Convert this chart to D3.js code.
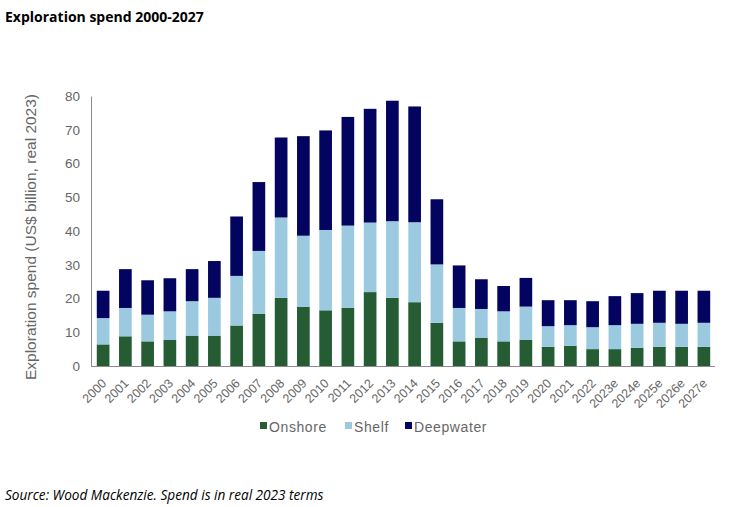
<!DOCTYPE html>
<html><head><meta charset="utf-8">
<script src="https://cdn.jsdelivr.net/npm/d3@7"></script>
<style>body{margin:0;background:#fff}svg{display:block}</style>
</head><body>
<script>
const years = ["2000","2001","2002","2003","2004","2005","2006","2007","2008","2009","2010","2011","2012","2013","2014","2015","2016","2017","2018","2019","2020","2021","2022","2023e","2024e","2025e","2026e","2027e"];
const onshore   = [6.4,8.8,7.3,7.7,9.0,9.0,12.0,15.5,20.2,17.5,16.5,17.2,21.9,20.2,18.9,12.8,7.3,8.4,7.3,7.8,5.7,6.0,5.0,5.0,5.4,5.7,5.7,5.7];
const shelf     = [7.8,8.4,7.9,8.5,10.2,11.2,14.7,18.6,23.8,21.1,23.8,24.4,20.6,22.7,23.7,17.3,9.9,8.5,8.9,9.8,6.1,6.1,6.5,7.1,7.1,7.1,6.8,7.1];
const deepwater = [8.1,11.5,10.2,9.8,9.5,10.9,17.6,20.4,23.7,29.5,29.5,32.2,33.7,35.7,34.3,19.3,12.6,8.8,7.5,8.5,7.7,7.4,7.7,8.6,9.1,9.5,9.8,9.5];
const seriesNames = ["Onshore","Shelf","Deepwater"];
const colors = ["#255c34","#9bcae0","#02045f"];
const yTicks = [0,10,20,30,40,50,60,70,80];

const W=732,H=507;
const FONT="Liberation Sans, Arial, sans-serif";
const svg=d3.select("body").append("svg").attr("width",W).attr("height",H);
const m={l:92,r:17};
const x=d3.scaleBand().domain(years).range([m.l,W-m.r]).paddingInner(0.43).paddingOuter(0.215);
const y=d3.scaleLinear().domain([0,80]).range([366,96]);

const rows=years.map((yr,i)=>({year:yr,Onshore:onshore[i],Shelf:shelf[i],Deepwater:deepwater[i]}));
const stack=d3.stack().keys(seriesNames)(rows);

svg.append("g").selectAll("g").data(stack).join("g").attr("fill",(d,i)=>colors[i])
  .selectAll("rect").data(d=>d).join("rect")
  .attr("x",d=>x(d.data.year)).attr("width",x.bandwidth())
  .attr("y",d=>y(d[1])).attr("height",d=>y(d[0])-y(d[1]));

// y axis
const ya=svg.append("g").attr("transform",`translate(${m.l-1},0)`)
  .call(d3.axisLeft(y).tickValues(yTicks).tickSize(0).tickPadding(11));
ya.select(".domain").attr("stroke","#8c8c8c");
ya.selectAll("text").attr("fill","#666").style("font-family",FONT).style("font-size","13.5px");

// x axis
const xa=svg.append("g").attr("transform",`translate(0,366)`)
  .call(d3.axisBottom(x).tickSize(0));
xa.select(".domain").attr("stroke","#8c8c8c").attr("d",`M${m.l-1},0.5H${W-m.r}`);
xa.selectAll("text").attr("fill","#666").style("font-family",FONT).style("font-size","12.5px")
  .attr("text-anchor","end").attr("x",0).attr("y",0).attr("dy","0.35em")
  .attr("transform","translate(1,15) rotate(-45)");

// y label
svg.append("text").attr("transform","translate(36,237) rotate(-90)").attr("text-anchor","middle")
  .attr("fill","#666").style("font-family",FONT).style("font-size","15.5px")
  .text("Exploration spend (US$ billion, real 2023)");

// title
svg.append("text").attr("x",5).attr("y",22).style("font-family","Open Sans, sans-serif").style("font-weight","bold").style("font-size","14px").attr("fill","#000")
  .text("Exploration spend 2000-2027");

// source
svg.append("text").attr("x",5).attr("y",500).style("font-family","Open Sans, sans-serif").style("font-style","italic").style("font-size","13.6px").attr("fill","#000")
  .text("Source: Wood Mackenzie. Spend is in real 2023 terms");

// legend
const legX=[260,345,405];
const lg=svg.append("g").selectAll("g").data(seriesNames).join("g").attr("transform",(d,i)=>`translate(${legX[i]},427)`);
lg.append("rect").attr("x",0).attr("y",-5).attr("width",7).attr("height",7).attr("fill",(d,i)=>colors[i]);
lg.append("text").attr("x",9).attr("y",5).attr("fill","#666").style("font-family",FONT).style("font-size","14px").style("letter-spacing","0.6px").text(d=>d);
</script>
</body></html>
